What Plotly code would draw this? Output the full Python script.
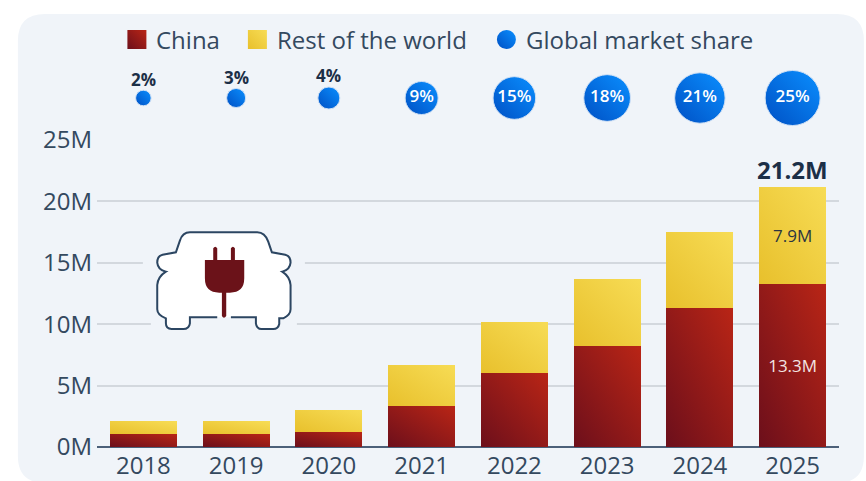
import math
import plotly.graph_objects as go

YEARS = ["2018", "2019", "2020", "2021", "2022", "2023", "2024", "2025"]
CHINA = [1.08, 1.08, 1.2, 3.3, 6.0, 8.2, 11.3, 13.3]
REST = [1.0, 1.0, 1.8, 3.4, 4.2, 5.5, 6.2, 7.9]
SHARE = [2, 3, 4, 9, 15, 18, 21, 25]
CHINA_LABELS = ["", "", "", "", "", "", "", "13.3M"]
REST_LABELS = ["", "", "", "", "", "", "", "7.9M"]
SHARE_LABELS = ["2%", "3%", "4%", "9%", "15%", "18%", "21%", "25%"]
TOTAL_LABEL = "21.2M"
TOTAL_VALUE = 21.2
Y_TICKS = [0, 5, 10, 15, 20, 25]
Y_TICK_LABELS = ["0M", "5M", "10M", "15M", "20M", "25M"]
SERIES_NAMES = ["China", "Rest of the world", "Global market share"]

W, H = 866, 481
LEFT, RIGHT, TOP, BASE = 97.1, 839.1, 60, 447
PLOT_TOP_25 = 140
FONT = "Open Sans, Noto Sans, sans-serif"
TEXT = "#34495f"
DARK = "#1c2f47"
CARD = "#f0f4f9"
GRID = "#d3d8de"
RED, YEL, BLUE = "#9c1c17", "#f0cf3e", "#0a6ee6"
SIZEREF = 0.0165


def px(x):
    return (x - LEFT) / (RIGHT - LEFT)


def py(y):
    return (BASE - y) / (BASE - TOP)


def path(cmds):
    out = []
    for c in cmds:
        nums = [f"{px(v) if i % 2 == 0 else py(v):.5f}" for i, v in enumerate(c[1:])]
        out.append(c[0] + " " + " ".join(nums) if nums else c[0])
    return " ".join(out)


def z(x, y):
    return (140 + x / 3, 220 + y / 3)


def zc(cmd, *pts):
    vals = []
    for i in range(0, len(pts), 2):
        vals.extend(z(pts[i], pts[i + 1]))
    return (cmd, *vals)


domain_main = [0, py(PLOT_TOP_25)]

fig = go.Figure()
fig.add_bar(x=YEARS, y=CHINA, name=SERIES_NAMES[0], marker=dict(color=RED, line=dict(width=0)),
            text=CHINA_LABELS, textposition="inside", insidetextanchor="middle", textangle=0,
            textfont=dict(color="#f3e4e2", size=17, family=FONT), width=0.72, hoverinfo="skip")
fig.add_bar(x=YEARS, y=REST, name=SERIES_NAMES[1], marker=dict(color=YEL, line=dict(width=0)),
            text=REST_LABELS, textposition="inside", insidetextanchor="middle", textangle=0,
            textfont=dict(color="#2b3440", size=17, family=FONT), width=0.72, hoverinfo="skip")
fig.add_scatter(x=YEARS, y=[0] * len(YEARS), yaxis="y2", name=SERIES_NAMES[2], mode="markers+text",
                marker=dict(size=SHARE, sizemode="area", sizeref=SIZEREF, color=BLUE, opacity=1,
                            line=dict(color="#cfe0f5", width=1)),
                text=[t if s >= 5 else "" for t, s in zip(SHARE_LABELS, SHARE)],
                textposition="middle center",
                textfont=dict(size=17, family=FONT, weight=600, color="#ffffff"),
                cliponaxis=False, hoverinfo="skip")

shapes = []
# card
x0, y0, x1, y1, r = 18, 14, 864, 483, 27
shapes.append(dict(type="path", xref="paper", yref="paper", layer="below", fillcolor=CARD,
                   line=dict(width=0),
                   path=path([("M", x0 + r, y0), ("L", x1 - r, y0), ("Q", x1, y0, x1, y0 + r),
                              ("L", x1, y1 - r), ("Q", x1, y1, x1 - r, y1), ("L", x0 + r, y1),
                              ("Q", x0, y1, x0, y1 - r), ("L", x0, y0 + r), ("Q", x0, y0, x0 + r, y0),
                              ("Z",)])))
# gridline gaps around the icon
for a, b, c, d in [(143, 255, 305, 270), (151, 317, 297, 331)]:
    shapes.append(dict(type="rect", xref="paper", yref="paper", layer="above", fillcolor=CARD,
                       line=dict(width=0), x0=px(a), x1=px(c), y0=py(d), y1=py(b)))

outline = [zc("M", 273, 292), zc("L", 348, 292), zc("L", 348, 310), zc("Q", 350, 327, 365, 327),
           zc("L", 400, 327), zc("Q", 415, 327, 418, 312), zc("L", 418, 295), zc("L", 430, 295),
           zc("Q", 452, 285, 452, 268), zc("L", 452, 195), zc("Q", 450, 170, 427, 155),
           zc("Q", 450, 150, 452, 128), zc("Q", 452, 108, 436, 104), zc("L", 396, 97),
           zc("L", 385, 65), zc("Q", 375, 37, 352, 37), zc("L", 150, 37), zc("Q", 128, 37, 120, 62),
           zc("L", 108, 97), zc("L", 68, 104), zc("Q", 52, 108, 52, 128), zc("Q", 54, 150, 78, 155),
           zc("Q", 54, 170, 52, 195), zc("L", 52, 268), zc("Q", 52, 285, 78, 295), zc("L", 78, 310),
           zc("Q", 78, 327, 95, 327), zc("L", 130, 327), zc("Q", 148, 327, 150, 310),
           zc("L", 150, 292), zc("L", 232, 292)]
shapes.append(dict(type="path", xref="paper", yref="paper", layer="above", fillcolor="#ffffff",
                   line=dict(width=0), path=path(outline + [("Z",)])))
shapes.append(dict(type="path", xref="paper", yref="paper", layer="above",
                   line=dict(color="#2c4662", width=2), path=path(outline)))
plug = [zc("M", 220, 120), zc("L", 220, 85), zc("Q", 226, 76, 232, 85), zc("L", 232, 120),
        zc("L", 273, 120), zc("L", 273, 85), zc("Q", 279, 76, 285, 85), zc("L", 285, 120),
        zc("L", 313, 120), zc("L", 313, 175), zc("Q", 313, 218, 270, 218), zc("L", 259, 218),
        zc("L", 259, 288), zc("Q", 252, 298, 246, 288), zc("L", 246, 218), zc("L", 238, 218),
        zc("Q", 195, 218, 195, 175), zc("L", 195, 120), ("Z",)]
shapes.append(dict(type="path", xref="paper", yref="paper", layer="above", fillcolor="#6b1219",
                   line=dict(width=0), path=path(plug)))

# legend
shapes.append(dict(type="rect", xref="paper", yref="paper", layer="above", fillcolor=RED, line=dict(width=0),
                   x0=px(127.5), x1=px(146.5), y0=py(49), y1=py(30)))
shapes.append(dict(type="rect", xref="paper", yref="paper", layer="above", fillcolor=YEL, line=dict(width=0),
                   x0=px(248), x1=px(267), y0=py(49), y1=py(30)))
shapes.append(dict(type="circle", xref="paper", yref="paper", layer="above", fillcolor=BLUE, line=dict(width=0),
                   x0=px(497), x1=px(516), y0=py(49), y1=py(30)))

annotations = [dict(xref="x", x=YEARS.index("2025"), y=TOTAL_VALUE, yref="y", text=f"<b>{TOTAL_LABEL}</b>",
                    showarrow=False, yanchor="bottom", yshift=-1, font=dict(size=24, color=DARK, family=FONT))]
for i, (share, label) in enumerate(zip(SHARE, SHARE_LABELS)):
    if share < 5:
        annotations.append(dict(xref="x", x=i, yref="y2", y=0, text=f"<b>{label}</b>", showarrow=False,
                                yanchor="middle", yshift=math.sqrt(2 * share / SIZEREF) / 2 + 11,
                                font=dict(size=17, color=DARK, family=FONT)))
for name, xp in zip(SERIES_NAMES, [156, 277, 526]):
    annotations.append(dict(xref="paper", yref="paper", x=px(xp), y=py(39.5), text=name, showarrow=False,
                            xanchor="left", yanchor="middle", xshift=-2,
                            font=dict(size=24, color=TEXT, family=FONT)))

fig.update_layout(
    width=W, height=H, barmode="stack", bargap=0.28, showlegend=False,
    paper_bgcolor="#ffffff", plot_bgcolor="rgba(0,0,0,0)",
    margin=dict(l=LEFT, r=W - RIGHT, t=TOP, b=H - BASE, pad=0, autoexpand=False),
    font=dict(family=FONT, color=TEXT, size=24),
    xaxis=dict(type="category", categoryorder="array", categoryarray=YEARS, showgrid=False,
               showline=False, ticks="", tickfont=dict(size=24, color=TEXT), automargin=False,
               range=[-0.5, 7.5], zeroline=False, ticklabelstandoff=2),
    yaxis=dict(domain=domain_main, range=[0, 25], tickvals=Y_TICKS, ticktext=Y_TICK_LABELS,
               gridcolor=GRID, gridwidth=2, zeroline=True, zerolinecolor="#4c6079", zerolinewidth=2,
               showline=False, ticks="", automargin=False, ticklabelstandoff=4,
               tickfont=dict(size=24, color=TEXT)),
    yaxis2=dict(domain=[py(136), 1], range=[-1, 1], visible=False, anchor="x", fixedrange=True),
    shapes=shapes, annotations=annotations,
)

post = """
document.body.style.margin = '0';
var gd = document.getElementById('{plot_id}');
var NS = 'http://www.w3.org/2000/svg';
function addGrad(svg, id, c0, c1) {
  var g = document.createElementNS(NS, 'linearGradient');
  g.setAttribute('id', id);
  g.setAttribute('x1', '0'); g.setAttribute('y1', '1');
  g.setAttribute('x2', '1'); g.setAttribute('y2', '0');
  [[0, c0], [1, c1]].forEach(function (s) {
    var st = document.createElementNS(NS, 'stop');
    st.setAttribute('offset', s[0]); st.setAttribute('stop-color', s[1]);
    g.appendChild(st);
  });
  svg.appendChild(g);
}
function apply() {
  var svg = gd.querySelector('svg.main-svg');
  var defs = svg.querySelector('defs');
  if (!document.getElementById('gradRed')) {
    addGrad(defs, 'gradRed', '#6c0f1b', '#b92516');
    addGrad(defs, 'gradYel', '#e8c02c', '#f7dc55');
    addGrad(defs, 'gradBlue', '#0050c4', '#0a8fff');
  }
  var map = {'rgb(156, 28, 23)': 'gradRed', 'rgb(240, 207, 62)': 'gradYel', 'rgb(10, 110, 230)': 'gradBlue'};
  gd.querySelectorAll('path').forEach(function (p) {
    var f = window.getComputedStyle(p).fill;
    if (map[f]) { p.style.fill = 'url(#' + map[f] + ')'; }
  });
}
apply();
gd.on('plotly_afterplot', apply);
"""
fig.write_html("out.html", post_script=post, config={"displayModeBar": False})
